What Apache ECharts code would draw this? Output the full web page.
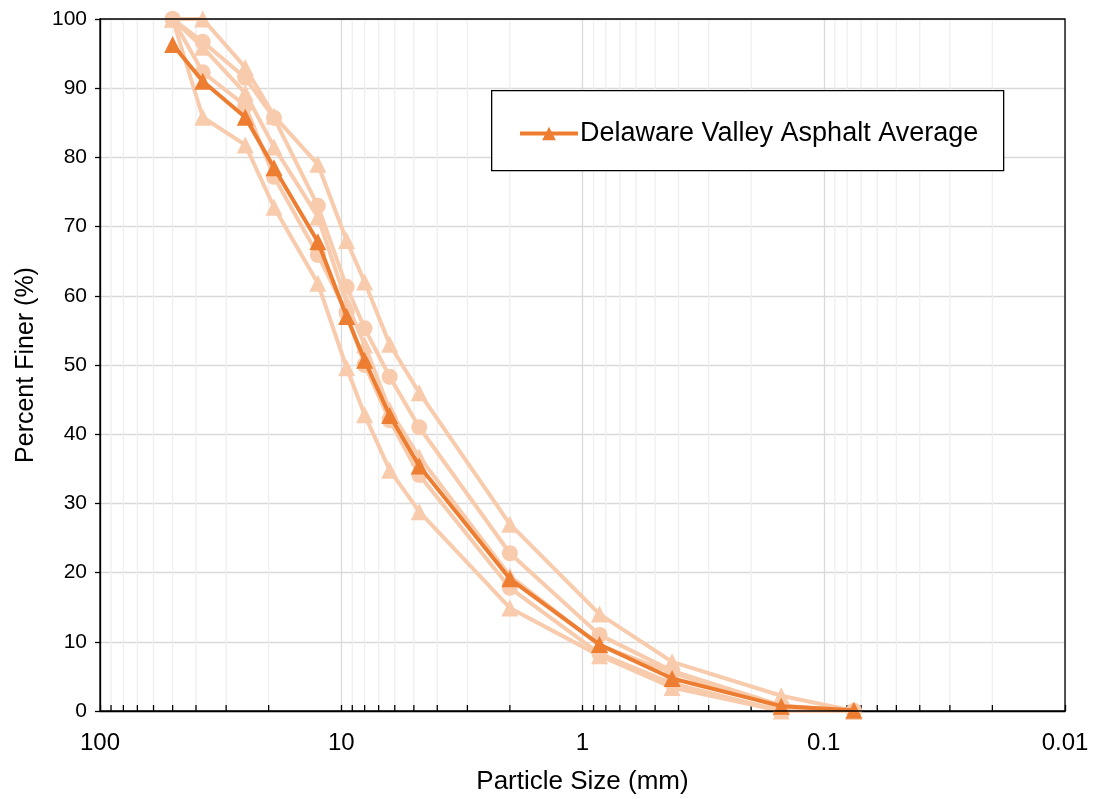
<!DOCTYPE html>
<html>
<head>
<meta charset="utf-8">
<script src="https://cdn.jsdelivr.net/npm/echarts@6/dist/echarts.min.js"></script>
<style>html,body{margin:0;padding:0;background:#fff}#c{width:1094px;height:799px}</style>
</head>
<body>
<div id="c"></div>
<script>
// Sieve sizes (mm)
const sizes = [50, 37.5, 25, 19, 12.5, 9.5, 8, 6.3, 4.75, 2.0, 0.85, 0.425, 0.15, 0.075];
// Individual samples (light)
const sample1 = [100, 100, 93, 86, 79, 68, 62, 53, 46, 27, 14, 7.1, 2.2, 0];
const sample2 = [100, 96.7, 91.5, 85.7, 73, 61.3, 55.3, 48.3, 41, 22.8, 11, 5.8, 0.8, 0];
const sample3 = [100, 95.9, 89.3, 81.5, 71.4, 59, 52.9, 43.5, 36.7, 19.5, 9.5, 5.5, 0.5, 0];
const sample4 = [100, 92.3, 87.5, 77.2, 65.9, 57.5, 50, 42, 34.1, 17.8, 8.3, 4, 0, 0];
const sample5 = [100, 85.8, 81.8, 72.8, 61.8, 49.6, 42.8, 34.8, 28.8, 14.9, 8, 3.4, 0, 0];
const sampleSymbols = ['triangle', 'circle', 'triangle', 'circle', 'triangle'];
// Average
const average = [96.3, 91, 85.8, 78.5, 67.8, 57, 50.7, 42.7, 35.4, 19.1, 9.6, 4.7, 0.7, 0.1];
// Axis ticks
const xMajorTicks = [100, 10, 1, 0.1, 0.01];
const xMinorTicks = [];
[0.01, 0.1, 1, 10].forEach(d => { for (let k = 2; k <= 9; k++) xMinorTicks.push(+(k * d).toPrecision(3)); });

const light = '#F8CBAD';
const dark = '#ED7D31';
const font = '"Liberation Sans", Arial, sans-serif';

const samples = [sample1, sample2, sample3, sample4, sample5];
const series = [];

series.push({
  type: 'custom',
  name: 'minor',
  silent: true,
  z: 1,
  data: xMinorTicks.map(v => [v, 0]),
  renderItem: function (params, api) {
    const cs = params.coordSys;
    const x = api.coord([api.value(0), 0])[0];
    return {
      type: 'group',
      children: [
        { type: 'line', shape: { x1: x, y1: cs.y, x2: x, y2: cs.y + cs.height }, style: { stroke: '#EFEFEF', lineWidth: 1.3 } },
        { type: 'line', shape: { x1: x, y1: cs.y + cs.height, x2: x, y2: cs.y + cs.height - 6 }, style: { stroke: '#000', lineWidth: 1.3 } }
      ]
    };
  }
});

samples.forEach((s, i) => {
  series.push({
    type: 'line',
    name: 'Sample ' + (i + 1),
    data: sizes.map((x, j) => [x, s[j]]),
    symbol: sampleSymbols[i],
    symbolSize: sampleSymbols[i] === 'circle' ? 16 : 17,
    lineStyle: { color: light, width: 4 },
    itemStyle: { color: light },
    z: 3,
    silent: true
  });
});

series.push({
  type: 'line',
  name: 'Delaware Valley Asphalt Average',
  data: sizes.map((x, j) => [x, average[j]]),
  symbol: 'triangle',
  symbolSize: 17,
  lineStyle: { color: dark, width: 4 },
  itemStyle: { color: dark },
  z: 5
});

const chart = echarts.init(document.getElementById('c'), null, { renderer: 'canvas' });
chart.setOption({
  animation: false,
  backgroundColor: '#fff',
  grid: { left: 100, right: 29, top: 19, bottom: 88, containLabel: false, outerBoundsMode: 'none',
    show: true, borderColor: '#000', borderWidth: 1.3, backgroundColor: 'transparent', z: 10 },
  graphic: [{
    type: 'rect', left: 491, top: 90, z: 20,
    shape: { width: 512, height: 80 },
    style: { fill: '#fff', stroke: '#000', lineWidth: 1.3 }
  }],
  legend: {
    data: ['Delaware Valley Asphalt Average'],
    left: 513, top: 115, z: 30,
    itemWidth: 58, itemHeight: 17, itemGap: 4,
    lineStyle: { width: 4 },
    textStyle: { fontFamily: font, fontSize: 27, color: '#000', padding: [0, 0, 0, -3] }
  },
  xAxis: {
    type: 'log', logBase: 10, min: 0.01, max: 100, inverse: true,
    name: 'Particle Size (mm)', nameLocation: 'middle', nameGap: 58,
    nameTextStyle: { fontFamily: font, fontSize: 26, color: '#000' },
    axisLine: { show: true, lineStyle: { color: '#000', width: 1.3 } },
    axisTick: { show: true, inside: true, length: 6, lineStyle: { color: '#000', width: 1.3 } },
    axisLabel: { fontFamily: font, fontSize: 24, color: '#000', margin: 20,
      formatter: v => { const m = xMajorTicks.find(t => Math.abs(t - v) / t < 1e-6); return m === undefined ? '' : String(m); } },
    splitLine: { show: true, lineStyle: { color: '#D9D9D9', width: 1.3 } },
    minorTick: { show: false }, minorSplitLine: { show: false }
  },
  yAxis: {
    type: 'value', min: 0, max: 100, interval: 10,
    name: 'Percent Finer (%)', nameLocation: 'middle', nameGap: 61,
    nameTextStyle: { fontFamily: font, fontSize: 25, color: '#000' },
    axisLine: { show: true, lineStyle: { color: '#000', width: 1.3 } },
    axisTick: { show: true, inside: false, length: 5, lineStyle: { color: '#000', width: 1.3 } },
    axisLabel: { fontFamily: font, fontSize: 21, color: '#000', margin: 13 },
    splitLine: { show: true, lineStyle: { color: '#D9D9D9', width: 1.3 } }
  },
  series: series
});
</script>
</body>
</html>
